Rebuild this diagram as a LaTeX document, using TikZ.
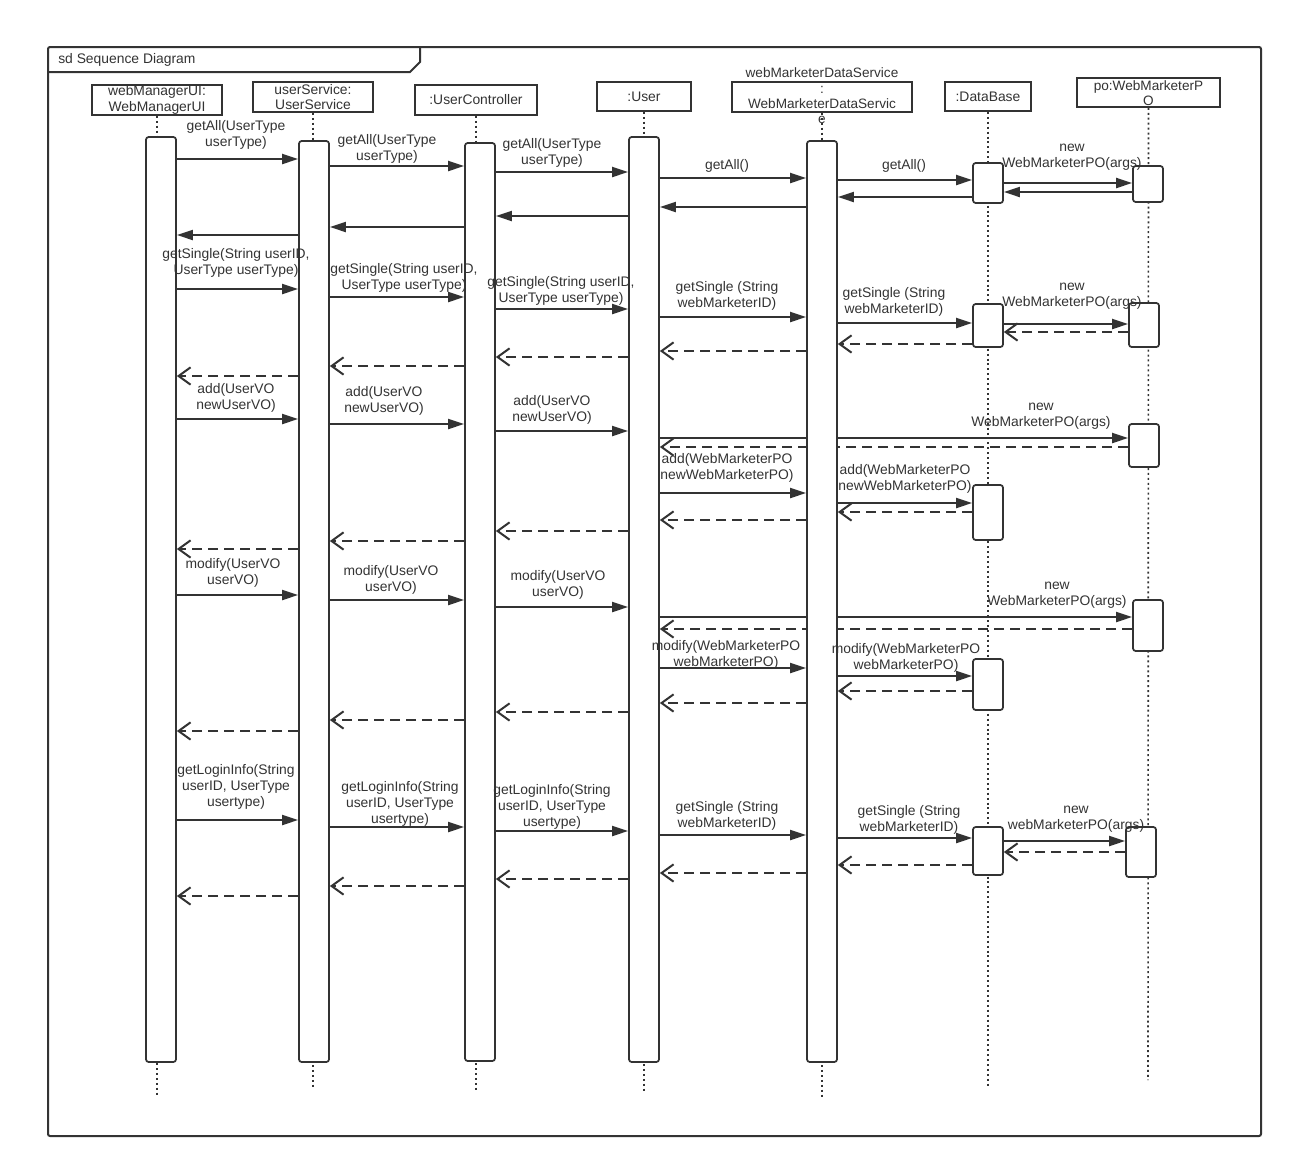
\documentclass[tikz,border=0pt]{standalone}
\usepackage{fontspec}
\setmainfont{Liberation Sans}
\usetikzlibrary{arrows.meta,calc}
\definecolor{ink}{HTML}{333333}
\pgfdeclarelayer{bg}
\pgfsetlayers{bg,main}
\newcommand\callmsg[3]{\path (0,#3) coordinate (mY); \draw[callarrow] (#1 |- mY) -- (#2 |- mY);}
\newcommand\retmsg[3]{\path (0,#3) coordinate (mY); \draw[retarrow] (#1 |- mY) -- (#2 |- mY);}
\newcommand\solidret[3]{\path (0,#3) coordinate (mY); \draw[callarrow] (#1 |- mY) -- (#2 |- mY);}
\begin{document}
\begin{tikzpicture}[x=0.75pt,y=-0.75pt,
  txt/.style={font=\fontsize{10.4}{12}\selectfont, text=ink, align=center, inner sep=0pt},
  headbox/.style={draw=ink, line width=1.3pt, fill=white, inner sep=0pt, align=center, text=ink,
     font=\fontsize{10.4}{11.5}\selectfont},
  actbox/.style={draw=ink, line width=1.3pt, fill=white, rounded corners=2pt, minimum width=22.5pt, inner sep=0pt},
  life/.style={draw=ink, line width=1.2pt, dash pattern=on 1.5pt off 2.2pt},
  callarrow/.style={draw=ink, line width=1.5pt, -{Triangle[length=12pt,width=7.5pt]}},
  retarrow/.style={draw=ink, line width=1.5pt, dash pattern=on 7.5pt off 4.5pt, -{Straight Barb[length=9pt,width=13pt]}},
]
\useasboundingbox (0,0) rectangle (1293,1168);
% frame
\draw[ink, line width=1.5pt, rounded corners=1.5pt] (48,47) rectangle (1261,1136);
\draw[ink, line width=1.5pt] (48,72) -- (410,72) -- (420,62) -- (420,47);
\node[txt, anchor=west] (title) at (58,60) {sd Sequence Diagram};

% heads
\node[headbox, minimum width=97.5pt, minimum height=22.5pt] (h1) at (157,100) {webManagerUI:\\WebManagerUI};
\node[headbox, minimum width=90pt, minimum height=22.5pt] (h2) at (313,97) {userService:\\UserService};
\node[headbox, minimum width=91.5pt, minimum height=22.5pt] (h3) at (476,100) {:UserController};
\node[headbox, minimum width=70.5pt, minimum height=21.75pt] (h4) at (644,96.5) {:User};
\node[headbox, minimum width=135pt, minimum height=22.5pt] (h5) at (822,97) {};
\node[headbox, minimum width=64.5pt, minimum height=21.75pt] (h6) at (988,96.5) {:DataBase};
\node[headbox, minimum width=107.25pt, minimum height=21.75pt] (h7) at (1148.5,92.5) {};
\node[txt, font=\fontsize{10.2}{11.5}\selectfont] (h5t) at (822,96) {webMarketerDataService\\:\\WebMarketerDataServic\\e};
\node[txt, font=\fontsize{10.2}{11.2}\selectfont] (h7t) at (1148.5,93.5) {po:WebMarketerP\\O};

% lifeline ends
\coordinate (e1) at (157,1097);
\coordinate (e2) at (313,1087);
\coordinate (e3) at (476,1090);
\coordinate (e4) at (644,1093);
\coordinate (e5) at (822,1097);
\coordinate (e6) at (988,1087);
\coordinate (e7) at (1148,1080);

% activations
\node[actbox, minimum height={(1062-137)*0.75pt}] (a1) at (161,{(1062+137)/2}) {};
\node[actbox, minimum height={(1062-141)*0.75pt}] (a2) at (314,{(1062+141)/2}) {};
\node[actbox, minimum height={(1061-143)*0.75pt}] (a3) at (480,{(1061+143)/2}) {};
\node[actbox, minimum height={(1062-137)*0.75pt}] (a4) at (644,{(1062+137)/2}) {};
\node[actbox, minimum height={(1062-141)*0.75pt}] (a5) at (822,{(1062+141)/2}) {};
\node[actbox, minimum height={(203-163)*0.75pt}] (db1) at (988,{(203+163)/2}) {};
\node[actbox, minimum height={(347-304)*0.75pt}] (db2) at (988,{(347+304)/2}) {};
\node[actbox, minimum height={(540-485)*0.75pt}] (db3) at (988,{(540+485)/2}) {};
\node[actbox, minimum height={(710-659)*0.75pt}] (db4) at (988,{(710+659)/2}) {};
\node[actbox, minimum height={(875-827)*0.75pt}] (db5) at (988,{(875+827)/2}) {};
\node[actbox, minimum height={(202-166)*0.75pt}] (po1) at (1148,{(202+166)/2}) {};
\node[actbox, minimum height={(347-303)*0.75pt}] (po2) at (1144,{(347+303)/2}) {};
\node[actbox, minimum height={(467-424)*0.75pt}] (po3) at (1144,{(467+424)/2}) {};
\node[actbox, minimum height={(651-600)*0.75pt}] (po4) at (1148,{(651+600)/2}) {};
\node[actbox, minimum height={(877-827)*0.75pt}] (po5) at (1141,{(877+827)/2}) {};

\begin{pgfonlayer}{bg}
\draw[life] (h1.south) -- (e1);
\draw[life] (h2.south) -- (e2);
\draw[life] (h3.south) -- (e3);
\draw[life] (h4.south) -- (e4);
\draw[life] (h5.south) -- (e5);
\draw[life] (h6.south) -- (e6);
\draw[life] (h7.south) -- (e7);

% getAll
\callmsg{a1.east}{a2.west}{159}
\callmsg{a2.east}{a3.west}{166}
\callmsg{a3.east}{a4.west}{172}
\callmsg{a4.east}{a5.west}{178}
\callmsg{a5.east}{db1.west}{180}
\callmsg{db1.east}{po1.west}{183}
\solidret{po1.west}{db1.east}{192}
\solidret{db1.west}{a5.east}{197}
\solidret{a5.west}{a4.east}{207}
\solidret{a4.west}{a3.east}{216}
\solidret{a3.west}{a2.east}{227}
\solidret{a2.west}{a1.east}{235}
% getSingle
\callmsg{a1.east}{a2.west}{289}
\callmsg{a2.east}{a3.west}{297}
\callmsg{a3.east}{a4.west}{309}
\callmsg{a4.east}{a5.west}{317}
\callmsg{a5.east}{db2.west}{323}
\callmsg{db2.east}{po2.west}{324}
\retmsg{po2.west}{db2.east}{332}
\retmsg{db2.west}{a5.east}{344}
\retmsg{a5.west}{a4.east}{351}
\retmsg{a4.west}{a3.east}{357}
\retmsg{a3.west}{a2.east}{366}
\retmsg{a2.west}{a1.east}{376}
% add
\callmsg{a1.east}{a2.west}{419}
\callmsg{a2.east}{a3.west}{424}
\callmsg{a3.east}{a4.west}{431}
\callmsg{a4.east}{po3.west}{438}
\retmsg{po3.west}{a4.east}{447}
\callmsg{a4.east}{a5.west}{493}
\callmsg{a5.east}{db3.west}{503}
\retmsg{db3.west}{a5.east}{512}
\retmsg{a5.west}{a4.east}{520}
\retmsg{a4.west}{a3.east}{531}
\retmsg{a3.west}{a2.east}{541}
\retmsg{a2.west}{a1.east}{549}
% modify
\callmsg{a1.east}{a2.west}{595}
\callmsg{a2.east}{a3.west}{600}
\callmsg{a3.east}{a4.west}{607}
\callmsg{a4.east}{po4.west}{617}
\retmsg{po4.west}{a4.east}{629}
\callmsg{a4.east}{a5.west}{668}
\callmsg{a5.east}{db4.west}{676}
\retmsg{db4.west}{a5.east}{691}
\retmsg{a5.west}{a4.east}{703}
\retmsg{a4.west}{a3.east}{712}
\retmsg{a3.west}{a2.east}{720}
\retmsg{a2.west}{a1.east}{731}
% getLoginInfo
\callmsg{a1.east}{a2.west}{820}
\callmsg{a2.east}{a3.west}{827}
\callmsg{a3.east}{a4.west}{831}
\callmsg{a4.east}{a5.west}{835}
\callmsg{a5.east}{db5.west}{838}
\callmsg{db5.east}{po5.west}{841}
\retmsg{po5.west}{db5.east}{852}
\retmsg{db5.west}{a5.east}{865}
\retmsg{a5.west}{a4.east}{873}
\retmsg{a4.west}{a3.east}{879}
\retmsg{a3.west}{a2.east}{886}
\retmsg{a2.west}{a1.east}{896}
\end{pgfonlayer}

% labels
\node[txt] (l01) at (236,135) {getAll(UserType\\userType)};
\node[txt] (l02) at (387,149) {getAll(UserType\\userType)};
\node[txt] (l03) at (552,152.5) {getAll(UserType\\userType)};
\node[txt] (l04) at (727,166) {getAll()};
\node[txt] (l05) at (904,166) {getAll()};
\node[txt] (l06) at (1072,157) {new\\WebMarketerPO(args)};

\node[txt] (l11) at (236,263) {getSingle(String userID,\\UserType userType)};
\node[txt] (l12) at (404,278) {getSingle(String userID,\\UserType userType)};
\node[txt] (l13) at (561,290.5) {getSingle(String userID,\\UserType userType)};
\node[txt] (l14) at (727,295.5) {getSingle (String\\webMarketerID)};
\node[txt] (l15) at (894,302) {getSingle (String\\webMarketerID)};
\node[txt] (l16) at (1072,296) {new\\WebMarketerPO(args)};

\node[txt] (l21) at (236,398) {add(UserVO\\newUserVO)};
\node[txt] (l22) at (384,401) {add(UserVO\\newUserVO)};
\node[txt] (l23) at (552,410) {add(UserVO\\newUserVO)};
\node[txt] (l24) at (1041,416) {new\\WebMarketerPO(args)};
\node[txt] (l25) at (727,468) {add(WebMarketerPO\\newWebMarketerPO)};
\node[txt] (l26) at (905,479) {add(WebMarketerPO\\newWebMarketerPO)};

\node[txt] (l31) at (233,573) {modify(UserVO\\userVO)};
\node[txt] (l32) at (391,580) {modify(UserVO\\userVO)};
\node[txt] (l33) at (558,585) {modify(UserVO\\userVO)};
\node[txt] (l34) at (1057,595) {new\\WebMarketerPO(args)};
\node[txt] (l35) at (726,654.5) {modify(WebMarketerPO\\webMarketerPO)};
\node[txt] (l36) at (906,658) {modify(WebMarketerPO\\webMarketerPO)};

\node[txt] (l41) at (236,787) {getLoginInfo(String\\userID, UserType\\usertype)};
\node[txt] (l42) at (400,804) {getLoginInfo(String\\userID, UserType\\usertype)};
\node[txt] (l43) at (552,807) {getLoginInfo(String\\userID, UserType\\usertype)};
\node[txt] (l44) at (727,816) {getSingle (String\\webMarketerID)};
\node[txt] (l45) at (909,819.5) {getSingle (String\\webMarketerID)};
\node[txt] (l46) at (1076,819) {new\\webMarketerPO(args)};
\end{tikzpicture}
\end{document}
